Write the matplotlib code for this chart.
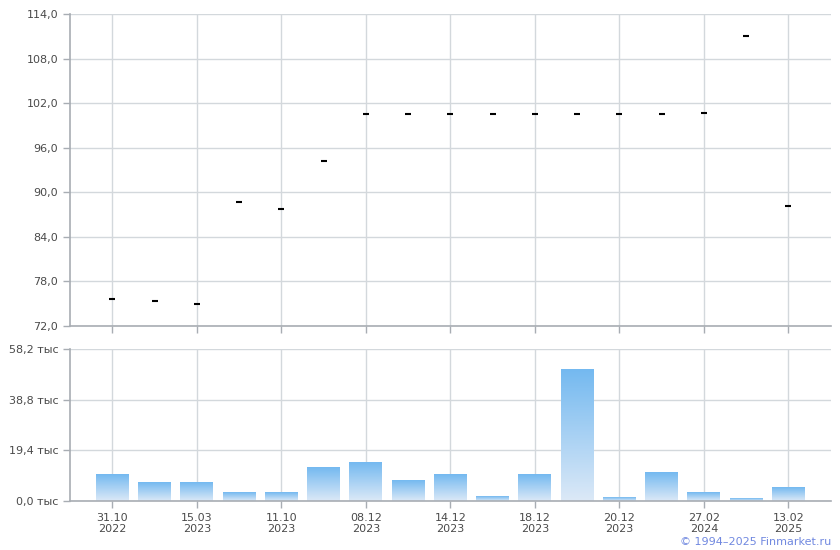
import numpy as np
import matplotlib
matplotlib.use('Agg')
import matplotlib.pyplot as plt
from matplotlib.colors import LinearSegmentedColormap

# Price per trading day (category axis) and volume in thousands
prices = [75.6, 75.4, 74.9, 88.7, 87.7, 94.2, 100.5, 100.5, 100.5,
          100.5, 100.5, 100.5, 100.5, 100.5, 100.7, 111.0, 88.2]
volumes = [10.0, 6.9, 6.9, 3.1, 3.1, 13.0, 14.9, 8.0, 10.0,
           1.9, 10.0, 50.2, 1.5, 11.1, 3.1, 0.8, 5.0]
date_labels = ['31.10\n2022', '15.03\n2023', '11.10\n2023', '08.12\n2023', '14.12\n2023',
               '18.12\n2023', '20.12\n2023', '27.02\n2024', '13.02\n2025']
price_ticks = [72, 78, 84, 90, 96, 102, 108, 114]
vol_ticks = [0, 19.4, 38.8, 58.2]

grid_col = '#d3d8dc'
spine_col = '#a8adb3'
text_col = '#4a4a4a'

plt.rcParams['font.family'] = 'DejaVu Sans'
plt.rcParams['font.size'] = 8

fig = plt.figure(figsize=(8.4, 5.5), dpi=100)
ax1 = fig.add_axes([0.0833, 0.4073, 0.9057, 0.5672])
ax2 = fig.add_axes([0.0833, 0.0891, 0.9057, 0.2764])

x = np.arange(len(prices))
label_pos = x[::2]


def style_axes(ax):
    for side in ['top', 'right']:
        ax.spines[side].set_visible(False)
    for side in ['left', 'bottom']:
        ax.spines[side].set_color(spine_col)
        ax.spines[side].set_linewidth(1.2)
    ax.set_xlim(-1, 17)
    ax.set_xticks(label_pos)
    ax.grid(True, color=grid_col, linewidth=1)
    ax.set_axisbelow(True)
    ax.tick_params(colors=spine_col, labelcolor=text_col, length=5, width=1)


# Top: price dashes
style_axes(ax1)
ax1.plot(x, prices, linestyle='none', marker='_', color='black', markersize=4, mew=1.5)
ax1.set_ylim(72, 114)
ax1.set_yticks(price_ticks)
ax1.set_yticklabels([f'{v:.1f}'.replace('.', ',') for v in price_ticks])
ax1.set_xticklabels([])

# Bottom: volume bars with vertical gradient
style_axes(ax2)
cmap = LinearSegmentedColormap.from_list('vol', ['#dce9f7', '#74b9f0'])
grad = np.linspace(0, 1, 256).reshape(-1, 1)
width = 0.78
for xi, v in zip(x, volumes):
    ax2.imshow(grad, cmap=cmap, origin='lower', aspect='auto',
               extent=(xi - width / 2, xi + width / 2, 0, v), zorder=2)
ax2.set_xlim(-1, 17)
ax2.set_ylim(0, 58.2)
ax2.set_yticks(vol_ticks)
ax2.set_yticklabels([f'{v:.1f}'.replace('.', ',') + ' тыс' for v in vol_ticks])
ax2.set_xticklabels(date_labels, linespacing=1.1)

fig.text(0.989, 0.006, '© 1994–2025 Finmarket.ru', color='#7088e0',
         ha='right', va='bottom', fontsize=8)

plt.savefig('out.png', dpi=100)
